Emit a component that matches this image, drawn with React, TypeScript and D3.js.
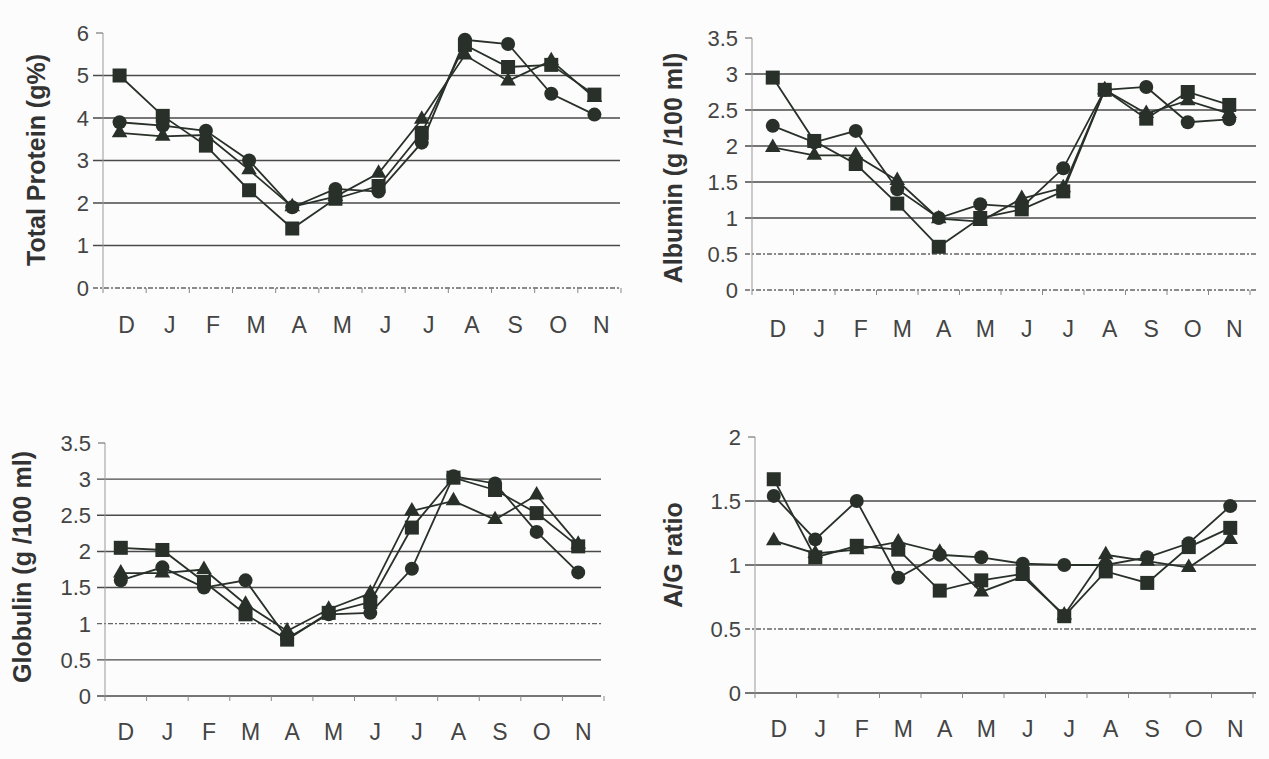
import React, { useEffect, useRef } from "react";
import * as d3 from "d3";

const months = ["D", "J", "F", "M", "A", "M", "J", "J", "A", "S", "O", "N"];

// Total protein (g%)
const tpSquare = [5.0, 4.05, 3.35, 2.3, 1.4, 2.1, 2.4, 3.65, 5.72, 5.2, 5.25, 4.55];
const tpCircle = [3.9, 3.82, 3.7, 3.0, 1.9, 2.33, 2.27, 3.42, 5.84, 5.74, 4.57, 4.08];
const tpTriangle = [3.65, 3.57, 3.6, 2.78, 1.91, 2.15, 2.7, 3.97, 5.48, 4.87, 5.35, 4.48];

// Albumin (g /100 ml)
const alSquare = [2.95, 2.07, 1.75, 1.2, 0.6, 1.0, 1.12, 1.37, 2.78, 2.38, 2.75, 2.57];
const alCircle = [2.28, 2.05, 2.21, 1.4, 1.0, 1.19, 1.15, 1.69, 2.78, 2.82, 2.33, 2.37];
const alTriangle = [1.98, 1.87, 1.87, 1.52, 0.99, 0.95, 1.27, 1.42, 2.78, 2.45, 2.63, 2.45];

// Globulin (g /100 ml)
const glSquare = [2.05, 2.02, 1.58, 1.13, 0.78, 1.15, 1.3, 2.33, 3.02, 2.85, 2.53, 2.07];
const glCircle = [1.6, 1.78, 1.5, 1.6, 0.8, 1.13, 1.15, 1.76, 3.04, 2.94, 2.27, 1.71];
const glTriangle = [1.7, 1.7, 1.75, 1.27, 0.9, 1.2, 1.42, 2.56, 2.7, 2.44, 2.78, 2.1];

// A/G ratio
const agSquare = [1.67, 1.06, 1.15, 1.12, 0.8, 0.88, 0.93, 0.6, 0.95, 0.86, 1.14, 1.29];
const agCircle = [1.54, 1.2, 1.5, 0.9, 1.08, 1.06, 1.01, 1.0, 1.0, 1.06, 1.17, 1.46];
const agTriangle = [1.19, 1.09, 1.12, 1.18, 1.1, 0.79, 0.91, 0.61, 1.08, 1.03, 0.98, 1.2];

const tpTicks = [0, 1, 2, 3, 4, 5, 6];
const halfTicks = [0, 0.5, 1, 1.5, 2, 2.5, 3, 3.5];
const agTicks = [0, 0.5, 1, 1.5, 2];

const panels = [
  {
    label: "Total Protein (g%)", sq: tpSquare, ci: tpCircle, tr: tpTriangle,
    ticks: tpTicks, max: 6, grid: [1, 2, 3, 4, 5], faint: [0],
    left: 103, right: 621, top: 33, bottom: 288, shift: -5, labelShift: 2,
    labelX: 36, labelY: 160, gridLeft: 93, gridRight: 620, xLabelY: 333,
  },
  {
    label: "Albumin (g /100 ml)", sq: alSquare, ci: alCircle, tr: alTriangle,
    ticks: halfTicks, max: 3.5, grid: [1, 1.5, 2, 2.5, 3], faint: [0, 0.5],
    left: 752, right: 1250, top: 38, bottom: 290, shift: 0, labelShift: 5,
    labelX: 673, labelY: 168, gridLeft: 745, gridRight: 1256, xLabelY: 337,
  },
  {
    label: "Globulin (g  /100 ml)", sq: glSquare, ci: glCircle, tr: glTriangle,
    ticks: halfTicks, max: 3.5, grid: [0, 0.5, 1.5, 2, 2.5, 3], faint: [1],
    left: 105, right: 604, top: 443, bottom: 696, shift: -5, labelShift: 0,
    labelX: 22, labelY: 567, gridLeft: 97, gridRight: 601, xLabelY: 740,
  },
  {
    label: "A/G ratio", sq: agSquare, ci: agCircle, tr: agTriangle,
    ticks: agTicks, max: 2, grid: [0, 1, 1.5], faint: [0.5],
    left: 755, right: 1253, top: 437, bottom: 693, shift: -2, labelShift: 3,
    labelX: 673, labelY: 555, gridLeft: 745, gridRight: 1256, xLabelY: 737,
  },
];

const ink = "#283029";
const textColor = "#444";

export default function App() {
  const ref = useRef<SVGSVGElement | null>(null);

  useEffect(() => {
    const svg = d3.select(ref.current);
    svg.selectAll("*").remove();
    svg.append("rect").attr("width", 1269).attr("height", 759).attr("fill", "#fbfcfb");

    panels.forEach((p) => {
      const g = svg.append("g");
      const idx = months.map((_, i) => i);
      const x = d3.scaleBand<number>().domain(idx).range([p.left, p.right]).padding(0);
      const y = d3.scaleLinear().domain([0, p.max]).range([p.bottom, p.top]);
      const cx = (i: number) => (x(i) as number) + x.bandwidth() / 2 + p.shift;

      // gridlines
      g.selectAll(".grid").data(p.grid).enter().append("line")
        .attr("x1", p.gridLeft).attr("x2", p.gridRight)
        .attr("y1", (d) => y(d)).attr("y2", (d) => y(d))
        .attr("stroke", "#4a4a4a").attr("stroke-width", 1.4);
      g.selectAll(".faint").data(p.faint).enter().append("line")
        .attr("x1", p.gridLeft).attr("x2", p.gridRight)
        .attr("y1", (d) => y(d)).attr("y2", (d) => y(d))
        .attr("stroke", "#666").attr("stroke-width", 1.3)
        .attr("stroke-dasharray", "5,2,2,2");

      // y axis
      g.append("line").attr("x1", p.left).attr("x2", p.left)
        .attr("y1", y(p.max)).attr("y2", y(0))
        .attr("stroke", "#999").attr("stroke-width", 1);
      g.append("line").attr("x1", p.left - 7).attr("x2", p.left)
        .attr("y1", y(p.max)).attr("y2", y(p.max))
        .attr("stroke", "#777").attr("stroke-width", 1.2);

      // x ticks
      g.selectAll(".xt").data(d3.range(months.length + 1)).enter().append("line")
        .attr("x1", (d) => p.left + d * x.bandwidth())
        .attr("x2", (d) => p.left + d * x.bandwidth())
        .attr("y1", y(0)).attr("y2", y(0) + 5)
        .attr("stroke", "#888").attr("stroke-width", 1);

      // y tick labels
      g.selectAll(".yl").data(p.ticks).enter().append("text")
        .attr("x", p.left - 14).attr("y", (d) => y(d))
        .attr("dy", "0.36em").attr("text-anchor", "end")
        .attr("font-family", "Liberation Sans, Arial, sans-serif")
        .attr("font-size", 22).attr("fill", textColor)
        .text((d) => String(d));

      // x labels
      g.selectAll(".xl").data(idx).enter().append("text")
        .attr("x", (d) => (x(d) as number) + x.bandwidth() / 2 + p.labelShift)
        .attr("y", p.xLabelY).attr("text-anchor", "middle")
        .attr("font-family", "Liberation Sans, Arial, sans-serif")
        .attr("font-size", 23).attr("fill", textColor)
        .text((d) => months[d]);

      // y title
      g.append("text")
        .attr("transform", `translate(${p.labelX},${p.labelY}) rotate(-90)`)
        .attr("text-anchor", "middle").attr("dominant-baseline", "central")
        .attr("font-family", "Liberation Sans, Arial, sans-serif")
        .attr("font-weight", "bold").attr("font-size", 25).attr("fill", "#333")
        .text(p.label);

      const line = d3.line<number>().x((_, i) => cx(i)).y((d) => y(d));
      [p.sq, p.ci, p.tr].forEach((s) => {
        g.append("path").datum(s).attr("d", line)
          .attr("fill", "none").attr("stroke", ink).attr("stroke-width", 1.8);
      });

      // markers: circles, triangles, squares on top
      g.selectAll(".ci").data(p.ci).enter().append("circle")
        .attr("cx", (_, i) => cx(i)).attr("cy", (d) => y(d)).attr("r", 7)
        .attr("fill", ink);
      const tri = d3.symbol().type(d3.symbolTriangle).size(105);
      g.selectAll(".tr").data(p.tr).enter().append("path")
        .attr("d", tri)
        .attr("transform", (d, i) => `translate(${cx(i)},${y(d)})`)
        .attr("fill", ink);
      g.selectAll(".sq").data(p.sq).enter().append("rect")
        .attr("x", (_, i) => cx(i) - 7).attr("y", (d) => y(d) - 7)
        .attr("width", 14).attr("height", 14)
        .attr("fill", ink);
    });
  }, []);

  return (
    <svg ref={ref} width={1269} height={759}
      style={{ position: "absolute", left: 0, top: 0 }} />
  );
}
